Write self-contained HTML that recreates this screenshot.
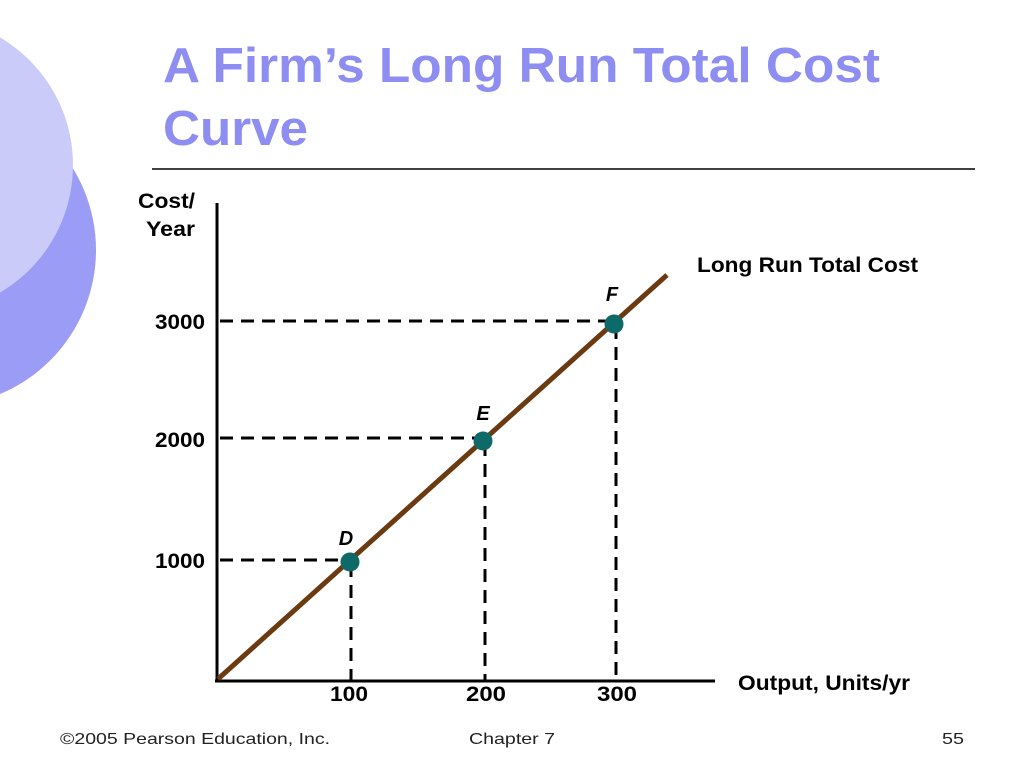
<!DOCTYPE html>
<html><head><meta charset="utf-8"><style>
body{margin:0;background:#fff;}
svg{display:block}
text{font-family:"Liberation Sans",sans-serif;}
</style></head><body>
<svg width="1024" height="767" viewBox="0 0 1024 767">
<rect width="1024" height="767" fill="#fff"/>
<circle cx="-60" cy="250" r="156" fill="#9b9cf6"/>
<circle cx="-75" cy="165" r="148" fill="#cbcbfa"/>
<text x="163" y="82" font-size="49" font-weight="bold" fill="#8d8df2" textLength="717" lengthAdjust="spacingAndGlyphs">A Firm’s Long Run Total Cost</text>
<text x="163" y="145" font-size="49" font-weight="bold" fill="#8d8df2" textLength="145" lengthAdjust="spacingAndGlyphs">Curve</text>
<line x1="152" y1="169" x2="975" y2="169" stroke="#000" stroke-width="1.5"/>
<g font-size="21" font-weight="bold">
<text x="138" y="208" textLength="57" lengthAdjust="spacingAndGlyphs">Cost/</text>
<text x="146" y="236" textLength="49" lengthAdjust="spacingAndGlyphs">Year</text>
<text x="155" y="329" textLength="50" lengthAdjust="spacingAndGlyphs">3000</text>
<text x="155" y="447" textLength="50" lengthAdjust="spacingAndGlyphs">2000</text>
<text x="155" y="568" textLength="50" lengthAdjust="spacingAndGlyphs">1000</text>
<text x="330" y="701" textLength="38" lengthAdjust="spacingAndGlyphs">100</text>
<text x="466" y="701" textLength="40" lengthAdjust="spacingAndGlyphs">200</text>
<text x="597" y="701" textLength="40" lengthAdjust="spacingAndGlyphs">300</text>
<text x="738" y="690" textLength="172" lengthAdjust="spacingAndGlyphs">Output, Units/yr</text>
<text x="697" y="272" textLength="221" lengthAdjust="spacingAndGlyphs">Long Run Total Cost</text>
</g>
<g stroke="#000" stroke-width="3" stroke-dasharray="13,8" fill="none">
<line x1="220" y1="321" x2="612" y2="321"/><line x1="220" y1="438" x2="482" y2="438"/><line x1="220" y1="560" x2="350" y2="560"/>
<line x1="616" y1="326" x2="616" y2="680"/><line x1="485" y1="443" x2="485" y2="680"/><line x1="351" y1="564" x2="351" y2="680"/>
</g>
<line x1="217" y1="203" x2="217" y2="682" stroke="#000" stroke-width="3"/>
<line x1="215" y1="681" x2="715" y2="681" stroke="#000" stroke-width="3"/>
<line x1="218" y1="679" x2="667" y2="275" stroke="#6b3a10" stroke-width="5"/>
<g fill="#0e6a68"><circle cx="350" cy="562" r="9.5"/><circle cx="483" cy="441" r="9.5"/><circle cx="614" cy="324" r="9.5"/></g>
<g font-size="20" font-weight="bold" font-style="italic" text-anchor="middle">
<text x="346" y="545">D</text><text x="483" y="420">E</text><text x="612" y="301">F</text></g>
<g font-size="16" fill="#222" font-family="DejaVu Sans">
<text x="60" y="744" textLength="270" lengthAdjust="spacingAndGlyphs">©2005 Pearson Education, Inc.</text>
<text x="469" y="744" textLength="86" lengthAdjust="spacingAndGlyphs">Chapter 7</text>
<text x="942" y="744" textLength="22" lengthAdjust="spacingAndGlyphs">55</text></g>
</svg>
</body></html>
